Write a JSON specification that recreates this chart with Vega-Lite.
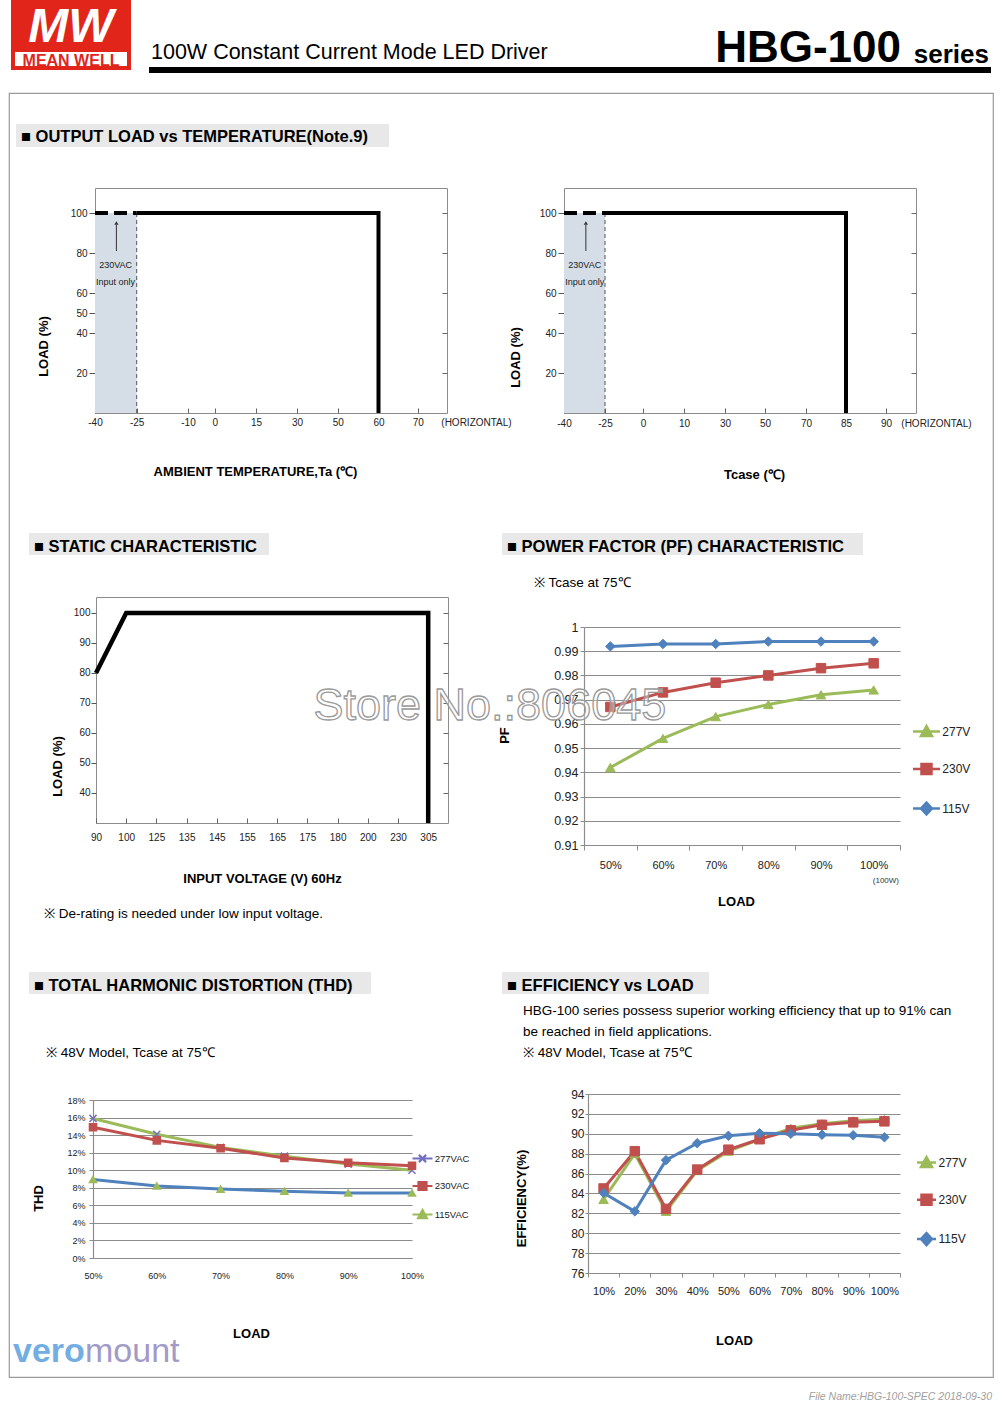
{
"$schema": "https://vega.github.io/schema/vega-lite/v6.json",
"background": "white",
"padding": {"left": 8, "top": 0, "right": 8, "bottom": 0},
"config": {
  "view": {"stroke": null},
  "font": "Liberation Sans, Arial, sans-serif",
  "title": {"baseline": "top", "frame": "group", "anchor": "start", "offset": 0, "color": "#000", "fontWeight": "normal", "font": "Liberation Sans, Arial, sans-serif"},
  "axis": {"grid": false, "labelFont": "Liberation Sans, Arial, sans-serif", "labelFontSize": 10, "labelColor": "#222", "tickColor": "#555", "titleFont": "Liberation Sans, Arial, sans-serif", "titleFontSize": 13, "titleFontWeight": "bold", "titleColor": "#000", "labelFlush": false, "labelOverlap": false},
  "legend": {"padding": 0}
},
"bounds": "flush",
"spacing": 0,
"vconcat": [
  {"hconcat": [{"width":1,"height":1,"data":{"values":[]},"mark":"point"},
    {"width":120,"height":50,"view":{"fill":"#e1251b","stroke":null},"data":{"values":[]},"mark":"point",
     "title":{"text":"MW","anchor":"middle","offset":-52,"fontSize":48,"fontWeight":"bold","fontStyle":"italic","color":"#ffffff"}}],
   "spacing":1,"bounds":"flush"},
  {"width":1,"height":50,"data":{"values":[]},"mark":"point"},
  {"hconcat": [{"width":1,"height":1,"data":{"values":[]},"mark":"point"},
    {"width":116,"height":18,"view":{"fill":"#ffffff","stroke":"#e1251b","strokeWidth":4},"data":{"values":[]},"mark":"point",
     "title":{"text":"MEAN WELL","anchor":"middle","offset":-18.5,"fontSize":16,"fontWeight":"bold","color":"#e1251b"}}],
   "spacing":3,"bounds":"flush"},
  {"width":1,"height":17,"data":{"values":[]},"mark":"point"},
  {"hconcat": [{"width":1,"height":1,"data":{"values":[]},"mark":"point"},
    {"width":842,"height":6,"view":{"fill":"#000000","stroke":null},"data":{"values":[]},"mark":"point"}],
   "spacing":139,"bounds":"flush"},
  {"hconcat":[{"width":1,"height":1,"data":{"values":[]},"mark":"point","title":{"text":"100W Constant Current Mode LED Driver","anchor":"start","dx":142,"offset":3.5,"fontSize":21.5}}],"bounds":"flush"},
  {"hconcat":[{"width":1,"height":1,"data":{"values":[]},"mark":"point","title":{"text":"HBG-100","anchor":"end","dx":891,"offset":-4.2,"fontSize":44,"fontWeight":"bold"}}],"bounds":"flush"},
  {"hconcat":[{"width":1,"height":1,"data":{"values":[]},"mark":"point","title":{"text":"series","anchor":"end","dx":979,"offset":-0.5,"fontSize":26,"fontWeight":"bold"}}],"bounds":"flush"},
  {"width":1,"height":26,"data":{"values":[]},"mark":"point"},
  {"hconcat": [
    {"width":984,"height":1284,"view":{"stroke":"#9a9a9a","strokeWidth":1.2},"data":{"values":[]},"mark":"point"}],
   "bounds":"flush"},
  {"width":1,"height":31,"data":{"values":[]},"mark":"point"},
  {"hconcat": [{"width":1,"height":1,"data":{"values":[]},"mark":"point"},
    {"width":373,"height":23,"view":{"fill":"#e8e8e8","stroke":null},"data":{"values":[]},"mark":"point",
     "title":{"text":"■ OUTPUT LOAD vs TEMPERATURE(Note.9)","dx":5,"offset":-21.5,"fontSize":16.5,"fontWeight":"bold"}}],
   "spacing":6,"bounds":"flush"},
  {"width":1,"height":64,"data":{"values":[]},"mark":"point"},
  {"hconcat": [{"width":1,"height":1,"data":{"values":[]},"mark":"point"},
    {"width": 352, "height": 225,
     "view": {"stroke": "#8c8c8c", "strokeWidth": 1},
     "encoding": {
      "x": {"field": "t", "type": "quantitative",
       "scale": {"domain": [-40,-25,-10,0,15,30,50,60,70,85], "range": [0,41.7,93,119.7,161,202,242.7,283.5,322.7,381], "nice": false, "zero": false},
       "axis": {"values": [-40,-25,-10,0,15,30,50,60,70,85], "labelExpr": "datum.value == 85 ? '(HORIZONTAL)' : '' + datum.value", "domain": false, "tickSize": -5, "tickColor": {"condition": {"test": "datum.value > 80", "value": "transparent"}, "value": "#666"}, "labelPadding": 9, "title": "AMBIENT TEMPERATURE,Ta (℃)", "titleX": 160, "titleY": 62, "titleBaseline": "alphabetic"}},
      "y": {"field": "load", "type": "quantitative", "scale": {"domain": [0, 112.5], "nice": false, "zero": false}, "axis": null}
     },
     "layer": [
      {"data": {"values": [{"t": -40, "t2": -25, "load": 0, "load2": 100}]}, "mark": {"type": "rect", "color": "#d5dde6"},
       "encoding": {"x2": {"field": "t2"}, "y2": {"field": "load2"},
        "y": {"field": "load", "type": "quantitative", "scale": {"domain": [0, 112.5], "nice": false, "zero": false},
         "axis": {"values": [20,40,50,60,80,100], "labelExpr": "'' + datum.value", "domain": false, "tickSize": 6, "labelPadding": 2, "title": "LOAD (%)", "titleX": -48, "titleY": 158, "titleBaseline": "alphabetic"}}}},
      {"data": {"values": [{"t": -25, "load": 0, "load2": 100}]}, "mark": {"type": "rule", "color": "#555", "strokeDash": [4,3], "strokeWidth": 1},
       "encoding": {"y2": {"field": "load2"},
        "y": {"field": "load", "type": "quantitative", "scale": {"domain": [0, 112.5], "nice": false, "zero": false},
         "axis": {"orient": "right", "values": [20,40,60,80,100], "labels": false, "domain": false, "tickSize": -5, "tickColor": "#666", "title": null}}}},
      {"data": {"values": [{"t": -32.3, "load": 81, "load2": 94}]}, "mark": {"type": "rule", "color": "#333", "strokeWidth": 1}, "encoding": {"y2": {"field": "load2"}}},
      {"data": {"values": [{"t": -32.3, "load": 95}]}, "mark": {"type": "point", "shape": "triangle-up", "filled": true, "size": 18, "color": "#333", "opacity": 1}},
      {"data": {"values": [{"t": -32.6, "load": 74, "label": "230VAC"}, {"t": -32.6, "load": 65.5, "label": "Input only"}]}, "mark": {"type": "text", "fontSize": 9, "color": "#222"}, "encoding": {"text": {"field": "label"}}},
      {"data": {"values": [{"t": -40, "load": 100}, {"t": -25, "load": 100}]}, "mark": {"type": "line", "color": "#000", "strokeWidth": 4, "strokeDash": [13, 6]}},
      {"data": {"values": [{"i": 1, "t": -25, "load": 100}, {"i": 2, "t": 60, "load": 100}, {"i": 3, "t": 60, "load": 0}]}, "mark": {"type": "line", "color": "#000", "strokeWidth": 4, "strokeJoin": "miter"}, "encoding": {"order": {"field": "i"}}}
     ],
     "resolve": {"axis": {"y": "independent"}}}],
   "spacing":85,"bounds":"flush"},
  {"hconcat": [{"width":1,"height":1,"data":{"values":[]},"mark":"point"},
    {"width": 352, "height": 225,
     "view": {"stroke": "#8c8c8c", "strokeWidth": 1},
     "encoding": {
      "x": {"field": "t", "type": "quantitative",
       "scale": {"domain": [-40,-25,0,10,30,50,70,85,90,100], "range": [0,41,79,120,161,201,242,282,322,372], "nice": false, "zero": false},
       "axis": {"values": [-40,-25,0,10,30,50,70,85,90,100], "labelExpr": "datum.value == 100 ? '(HORIZONTAL)' : '' + datum.value", "domain": false, "tickSize": -5, "tickColor": {"condition": {"test": "datum.value > 95", "value": "transparent"}, "value": "#666"}, "labelPadding": 10, "title": "Tcase (℃)", "titleX": 190, "titleY": 65, "titleBaseline": "alphabetic"}},
      "y": {"field": "load", "type": "quantitative", "scale": {"domain": [0, 112.5], "nice": false, "zero": false}, "axis": null}
     },
     "layer": [
      {"data": {"values": [{"t": -40, "t2": -25, "load": 0, "load2": 100}]}, "mark": {"type": "rect", "color": "#d5dde6"},
       "encoding": {"x2": {"field": "t2"}, "y2": {"field": "load2"},
        "y": {"field": "load", "type": "quantitative", "scale": {"domain": [0, 112.5], "nice": false, "zero": false},
         "axis": {"values": [20,40,50,60,80,100], "labelExpr": "datum.value == 50 ? '' : '' + datum.value", "domain": false, "tickSize": 6, "labelPadding": 2, "title": "LOAD (%)", "titleX": -45, "titleY": 169, "titleBaseline": "alphabetic"}}}},
      {"data": {"values": [{"t": -25, "load": 0, "load2": 100}]}, "mark": {"type": "rule", "color": "#555", "strokeDash": [4,3], "strokeWidth": 1},
       "encoding": {"y2": {"field": "load2"},
        "y": {"field": "load", "type": "quantitative", "scale": {"domain": [0, 112.5], "nice": false, "zero": false},
         "axis": {"orient": "right", "values": [20,40,60,80,100], "labels": false, "domain": false, "tickSize": -5, "tickColor": "#666", "title": null}}}},
      {"data": {"values": [{"t": -32, "load": 81, "load2": 94}]}, "mark": {"type": "rule", "color": "#333", "strokeWidth": 1}, "encoding": {"y2": {"field": "load2"}}},
      {"data": {"values": [{"t": -32, "load": 95}]}, "mark": {"type": "point", "shape": "triangle-up", "filled": true, "size": 18, "color": "#333", "opacity": 1}},
      {"data": {"values": [{"t": -32.4, "load": 74, "label": "230VAC"}, {"t": -32.4, "load": 65.5, "label": "Input only"}]}, "mark": {"type": "text", "fontSize": 9, "color": "#222"}, "encoding": {"text": {"field": "label"}}},
      {"data": {"values": [{"t": -40, "load": 100}, {"t": -25, "load": 100}]}, "mark": {"type": "line", "color": "#000", "strokeWidth": 4, "strokeDash": [13, 6]}},
      {"data": {"values": [{"i": 1, "t": -25, "load": 100}, {"i": 2, "t": 85, "load": 100}, {"i": 3, "t": 85, "load": 0}]}, "mark": {"type": "line", "color": "#000", "strokeWidth": 4, "strokeJoin": "miter"}, "encoding": {"order": {"field": "i"}}}
     ],
     "resolve": {"axis": {"y": "independent"}}}],
   "spacing":554,"bounds":"flush"},
  {"width":1,"height":345,"data":{"values":[]},"mark":"point"},
  {"hconcat": [{"width":1,"height":1,"data":{"values":[]},"mark":"point"},
    {"width":240,"height":22,"view":{"fill":"#e8e8e8","stroke":null},"data":{"values":[]},"mark":"point",
     "title":{"text":"■ STATIC CHARACTERISTIC","dx":5,"offset":-22.5,"fontSize":16.5,"fontWeight":"bold"}}],
   "spacing":19,"bounds":"flush"},
  {"hconcat": [{"width":1,"height":1,"data":{"values":[]},"mark":"point"},
    {"width":361,"height":22,"view":{"fill":"#e8e8e8","stroke":null},"data":{"values":[]},"mark":"point",
     "title":{"text":"■ POWER FACTOR (PF) CHARACTERISTIC","dx":5,"offset":-22.5,"fontSize":16.5,"fontWeight":"bold"}}],
   "spacing":492,"bounds":"flush"},
  {"width":1,"height":64,"data":{"values":[]},"mark":"point"},
  {"hconcat": [{"width":1,"height":1,"data":{"values":[]},"mark":"point"},
    {"width": 352, "height": 226,
     "view": {"stroke": "#8c8c8c", "strokeWidth": 1},
     "data": {"values": [{"i": 1, "v": 90, "load": 80}, {"i": 2, "v": 100, "load": 100}, {"i": 3, "v": 305, "load": 100}, {"i": 4, "v": 305, "load": 30}]},
     "encoding": {
      "x": {"field": "v", "type": "quantitative",
       "scale": {"domain": [90,100,125,135,145,155,165,175,180,200,230,305,330], "range": [0,30.2,60.4,90.6,120.8,151,181.2,211.4,241.6,271.8,302,332.2,352], "nice": false, "zero": false},
       "axis": {"values": [90,100,125,135,145,155,165,175,180,200,230,305], "labelExpr": "'' + datum.value", "domain": false, "tickSize": -5, "tickColor": "#666", "labelPadding": 14, "title": "INPUT VOLTAGE (V) 60Hz", "titleX": 166, "titleY": 59.5, "titleBaseline": "alphabetic"}},
      "order": {"field": "i"}
     },
     "layer": [
      {"mark": {"type": "line", "color": "#000", "strokeWidth": 4.5, "strokeJoin": "miter"},
       "encoding": {"y": {"field": "load", "type": "quantitative", "scale": {"domain": [30, 105.33], "nice": false, "zero": false},
        "axis": {"values": [40,50,60,70,80,90,100], "labelExpr": "'' + datum.value", "domain": false, "tickSize": 5, "labelPadding": 1, "title": "LOAD (%)", "titleX": -35, "titleY": 169, "titleBaseline": "alphabetic"}}}},
      {"transform": [{"filter": "false"}], "mark": {"type": "point"},
       "encoding": {"y": {"field": "load", "type": "quantitative", "scale": {"domain": [30, 105.33], "nice": false, "zero": false},
        "axis": {"orient": "right", "values": [40,50,60,70,80,90,100], "labels": false, "domain": false, "tickSize": -5, "tickColor": "#666", "title": null}}}}
     ],
     "resolve": {"axis": {"y": "independent"}}}],
   "spacing":86,"bounds":"flush"},
  {"hconcat":[{"width":1,"height":1,"data":{"values":[]},"mark":"point","title":{"text":"※ Tcase at 75℃","anchor":"start","dx":525,"offset":7.2,"fontSize":13.5}}],"bounds":"flush"},
  {"width":1,"height":30,"data":{"values":[]},"mark":"point"},
  {"hconcat": [{"width":1,"height":1,"data":{"values":[]},"mark":"point"},
    {"width": 316, "height": 218,
     "data": {"values": [
      {"load":"50%","series":"277V","pf":0.942},{"load":"60%","series":"277V","pf":0.954},{"load":"70%","series":"277V","pf":0.963},{"load":"80%","series":"277V","pf":0.968},{"load":"90%","series":"277V","pf":0.972},{"load":"100%","series":"277V","pf":0.974},
      {"load":"50%","series":"230V","pf":0.967},{"load":"60%","series":"230V","pf":0.973},{"load":"70%","series":"230V","pf":0.977},{"load":"80%","series":"230V","pf":0.980},{"load":"90%","series":"230V","pf":0.983},{"load":"100%","series":"230V","pf":0.985},
      {"load":"50%","series":"115V","pf":0.992},{"load":"60%","series":"115V","pf":0.993},{"load":"70%","series":"115V","pf":0.993},{"load":"80%","series":"115V","pf":0.994},{"load":"90%","series":"115V","pf":0.994},{"load":"100%","series":"115V","pf":0.994}
     ]},
     "encoding": {
      "x": {"field":"load","type":"ordinal","bandPosition":0.5,
        "scale":{"type":"band","domain":["50%","60%","70%","80%","90%","100%"],"paddingInner":0,"paddingOuter":0},
        "axis":{"tickBand":"extent","labelAngle":0,"labelFontSize":11,"tickSize":5,"tickColor":"#8c8c8c","labelPadding":9,"domainColor":"#8c8c8c","domainWidth":1.2,"title":"LOAD","titleX":152,"titleY":60,"titleBaseline":"alphabetic"}},
      "y": {"field":"pf","type":"quantitative","scale":{"domain":[0.91,1],"nice":false,"zero":false},
        "axis":{"values":[0.91,0.92,0.93,0.94,0.95,0.96,0.97,0.98,0.99,1],"labelExpr":"format(datum.value, '.2~f')","grid":true,"gridColor":"#8c8c8c","gridWidth":1.2,"domainColor":"#8c8c8c","domainWidth":1.2,"tickColor":"#8c8c8c","tickSize":4,"labelPadding":2,"labelFontSize":12.5,"title":"PF","titleX":-76,"titleY":108,"titleBaseline":"alphabetic"}}
     },
     "layer": [
      {"mark": {"type": "line", "strokeWidth": 3, "strokeJoin": "round"}, "encoding": {"color": {"field": "series", "type": "nominal", "scale": {"domain": ["277V","230V","115V"], "range": ["#9bbb59","#c0504d","#4f81bd"]}, "legend": null}}},
      {"mark": {"type": "point", "opacity": 1, "size": 90, "strokeWidth": 1, "filled": true},
       "encoding": {
        "fill": {"field": "series", "type": "nominal", "scale": {"domain": ["277V","230V","115V"], "range": ["#9bbb59","#c0504d","#4f81bd"]}, "legend": null},
        "stroke": {"field": "series", "type": "nominal", "scale": {"domain": ["277V","230V","115V"], "range": ["#9bbb59","#c0504d","#4f81bd"]}, "legend": null},
        "shape": {"field": "series", "type": "nominal", "scale": {"domain": ["277V","230V","115V"], "range": ["triangle-up","square","diamond"]}, "legend": null}}},
      {"transform": [{"filter": "false"}], "mark": {"type": "point", "opacity": 1, "strokeWidth": 2.5, "filled": true},
       "encoding": {
        "fill": {"field": "series", "type": "nominal", "scale": {"domain": ["277V","230V","115V"], "range": ["#9bbb59","#c0504d","#4f81bd"]}, "legend": {"orient":"none","legendX":336,"legendY":98,"title":null,"labelFontSize":12,"labelColor":"#222","symbolSize":100,"symbolStrokeWidth":2.5,"symbolOpacity":1,"rowPadding":17.5,"labelOffset":9.3,"padding":0}},
        "stroke": {"field": "series", "type": "nominal", "scale": {"domain": ["277V","230V","115V"], "range": ["#9bbb59","#c0504d","#4f81bd"]}, "legend": {"orient":"none","legendX":336,"legendY":98,"title":null,"labelFontSize":12,"labelColor":"#222","symbolSize":100,"symbolStrokeWidth":2.5,"symbolOpacity":1,"rowPadding":17.5,"labelOffset":9.3,"padding":0}},
        "shape": {"field": "series", "type": "nominal", "scale": {"domain": ["277V","230V","115V"], "range": ["M-2.7,0H2.7M0,-1.1L1.1,0.9H-1.1Z","M-2.7,0H2.7M-1,-1H1V1H-1Z","M-2.7,0H2.7M0,-1.2L1.1,0L0,1.2L-1.1,0Z"]}, "legend": {"orient":"none","legendX":336,"legendY":98,"title":null,"labelFontSize":12,"labelColor":"#222","symbolSize":100,"symbolStrokeWidth":2.5,"symbolOpacity":1,"rowPadding":17.5,"labelOffset":9.3,"padding":0}}}}
     ],
     "resolve": {"scale": {"fill": "independent", "stroke": "independent", "shape": "independent"}}}],
   "spacing":574,"bounds":"flush"},
  {"width":1,"height":92,"data":{"values":[]},"mark":"point"},
  {"hconcat": [{"width":1,"height":1,"data":{"values":[]},"mark":"point"},
    {"width":1,"height":1,"data":{"values":[{"w":"Store No.:806045"}]},"mark":{"type":"text","align":"left","baseline":"alphabetic","fontSize":45,"fill":"#ffffff","fillOpacity":0.35,"stroke":"#9a9a9a","strokeWidth":1.3},"encoding":{"text":{"field":"w"}}}],
   "spacing":303,"bounds":"flush"},
  {"width":1,"height":161,"data":{"values":[]},"mark":"point"},
  {"hconcat":[{"width":1,"height":1,"data":{"values":[]},"mark":"point","title":{"text":"(100W)","anchor":"end","dx":889,"offset":-4.7,"fontSize":8,"color":"#333"}}],"bounds":"flush"},
  {"hconcat":[{"width":1,"height":1,"data":{"values":[]},"mark":"point","title":{"text":"※ De-rating is needed under low input voltage.","anchor":"start","dx":35,"offset":-40.8,"fontSize":13.5}}],"bounds":"flush"},
  {"width":1,"height":92,"data":{"values":[]},"mark":"point"},
  {"hconcat": [{"width":1,"height":1,"data":{"values":[]},"mark":"point"},
    {"width":342,"height":22,"view":{"fill":"#e8e8e8","stroke":null},"data":{"values":[]},"mark":"point",
     "title":{"text":"■ TOTAL HARMONIC DISTORTION (THD)","dx":5,"offset":-22,"fontSize":16.5,"fontWeight":"bold"}}],
   "spacing":19,"bounds":"flush"},
  {"hconcat": [{"width":1,"height":1,"data":{"values":[]},"mark":"point"},
    {"width":207,"height":22,"view":{"fill":"#e8e8e8","stroke":null},"data":{"values":[]},"mark":"point",
     "title":{"text":"■ EFFICIENCY vs LOAD","dx":5,"offset":-22,"fontSize":16.5,"fontWeight":"bold"}}],
   "spacing":492,"bounds":"flush"},
  {"hconcat":[{"width":1,"height":1,"data":{"values":[]},"mark":"point","title":{"text":"HBG-100 series possess superior working efficiency that up to 91% can","anchor":"start","dx":514,"offset":-45.8,"fontSize":13.5}}],"bounds":"flush"},
  {"hconcat":[{"width":1,"height":1,"data":{"values":[]},"mark":"point","title":{"text":"be reached in field applications.","anchor":"start","dx":514,"offset":-66.8,"fontSize":13.5}}],"bounds":"flush"},
  {"hconcat":[{"width":1,"height":1,"data":{"values":[]},"mark":"point","title":{"text":"※ 48V Model, Tcase at 75℃","anchor":"start","dx":514,"offset":-87.8,"fontSize":13.5}}],"bounds":"flush"},
  {"hconcat":[{"width":1,"height":1,"data":{"values":[]},"mark":"point","title":{"text":"※ 48V Model, Tcase at 75℃","anchor":"start","dx":37,"offset":-87.8,"fontSize":13.5}}],"bounds":"flush"},
  {"width":1,"height":122,"data":{"values":[]},"mark":"point"},
  {"hconcat": [{"width":1,"height":1,"data":{"values":[]},"mark":"point"},
    {"width": 312, "height": 179,
     "data": {"values": [
      {"load":"10%","series":"277V","eff":83.4},{"load":"20%","series":"277V","eff":88.0},{"load":"30%","series":"277V","eff":82.2},{"load":"40%","series":"277V","eff":86.3},{"load":"50%","series":"277V","eff":88.25},{"load":"60%","series":"277V","eff":89.45},{"load":"70%","series":"277V","eff":90.55},{"load":"80%","series":"277V","eff":91.0},{"load":"90%","series":"277V","eff":91.3},{"load":"100%","series":"277V","eff":91.45},
      {"load":"10%","series":"230V","eff":84.5},{"load":"20%","series":"230V","eff":88.25},{"load":"30%","series":"230V","eff":82.45},{"load":"40%","series":"230V","eff":86.4},{"load":"50%","series":"230V","eff":88.4},{"load":"60%","series":"230V","eff":89.45},{"load":"70%","series":"230V","eff":90.35},{"load":"80%","series":"230V","eff":90.9},{"load":"90%","series":"230V","eff":91.15},{"load":"100%","series":"230V","eff":91.25},
      {"load":"10%","series":"115V","eff":84.05},{"load":"20%","series":"115V","eff":82.2},{"load":"30%","series":"115V","eff":87.35},{"load":"40%","series":"115V","eff":89.05},{"load":"50%","series":"115V","eff":89.8},{"load":"60%","series":"115V","eff":90.05},{"load":"70%","series":"115V","eff":90.0},{"load":"80%","series":"115V","eff":89.9},{"load":"90%","series":"115V","eff":89.85},{"load":"100%","series":"115V","eff":89.65}
     ]},
     "encoding": {
      "x": {"field":"load","type":"ordinal","bandPosition":0.5,
        "scale":{"type":"band","domain":["10%","20%","30%","40%","50%","60%","70%","80%","90%","100%"],"paddingInner":0,"paddingOuter":0},
        "axis":{"tickBand":"extent","labelAngle":0,"labelFontSize":11,"tickSize":4,"tickColor":"#8c8c8c","labelPadding":8,"domainColor":"#8c8c8c","domainWidth":1.2,"title":"LOAD","titleX":146,"titleY":71,"titleBaseline":"alphabetic"}},
      "y": {"field":"eff","type":"quantitative","scale":{"domain":[76,94],"nice":false,"zero":false},
        "axis":{"values":[76,78,80,82,84,86,88,90,92,94],"grid":true,"gridColor":"#8c8c8c","gridWidth":1.2,"domainColor":"#8c8c8c","domainWidth":1.2,"tickColor":"#8c8c8c","tickSize":3,"labelPadding":1,"labelFontSize":12,"title":"EFFICIENCY(%)","titleX":-63,"titleY":104,"titleBaseline":"alphabetic"}}
     },
     "layer": [
      {"mark": {"type": "line", "strokeWidth": 3, "strokeJoin": "round"}, "encoding": {"color": {"field": "series", "type": "nominal", "scale": {"domain": ["277V","230V","115V"], "range": ["#9bbb59","#c0504d","#4f81bd"]}, "legend": null}}},
      {"mark": {"type": "point", "opacity": 1, "size": 90, "strokeWidth": 1, "filled": true},
       "encoding": {
        "fill": {"field": "series", "type": "nominal", "scale": {"domain": ["277V","230V","115V"], "range": ["#9bbb59","#c0504d","#4f81bd"]}, "legend": null},
        "stroke": {"field": "series", "type": "nominal", "scale": {"domain": ["277V","230V","115V"], "range": ["#9bbb59","#c0504d","#4f81bd"]}, "legend": null},
        "shape": {"field": "series", "type": "nominal", "scale": {"domain": ["277V","230V","115V"], "range": ["triangle-up","square","diamond"]}, "legend": null}}},
      {"transform": [{"filter": "false"}], "mark": {"type": "point", "opacity": 1, "strokeWidth": 2.5, "filled": true},
       "encoding": {
        "fill": {"field": "series", "type": "nominal", "scale": {"domain": ["277V","230V","115V"], "range": ["#9bbb59","#c0504d","#4f81bd"]}, "legend": {"orient":"none","legendX":332,"legendY":62,"title":null,"labelFontSize":12,"labelColor":"#222","symbolSize":100,"symbolStrokeWidth":2.5,"symbolOpacity":1,"rowPadding":17.3,"labelOffset":5.5,"padding":0}},
        "stroke": {"field": "series", "type": "nominal", "scale": {"domain": ["277V","230V","115V"], "range": ["#9bbb59","#c0504d","#4f81bd"]}, "legend": {"orient":"none","legendX":332,"legendY":62,"title":null,"labelFontSize":12,"labelColor":"#222","symbolSize":100,"symbolStrokeWidth":2.5,"symbolOpacity":1,"rowPadding":17.3,"labelOffset":5.5,"padding":0}},
        "shape": {"field": "series", "type": "nominal", "scale": {"domain": ["277V","230V","115V"], "range": ["M-1.9,0H1.9M0,-1.1L1.1,0.9H-1.1Z","M-1.9,0H1.9M-1,-1H1V1H-1Z","M-1.9,0H1.9M0,-1.2L1.1,0L0,1.2L-1.1,0Z"]}, "legend": {"orient":"none","legendX":332,"legendY":62,"title":null,"labelFontSize":12,"labelColor":"#222","symbolSize":100,"symbolStrokeWidth":2.5,"symbolOpacity":1,"rowPadding":17.3,"labelOffset":5.5,"padding":0}}}}
     ],
     "resolve": {"scale": {"fill": "independent", "stroke": "independent", "shape": "independent"}}}],
   "spacing":578,"bounds":"flush"},
  {"width":1,"height":6,"data":{"values":[]},"mark":"point"},
  {"hconcat": [{"width":1,"height":1,"data":{"values":[]},"mark":"point"},
    {"width": 319, "height": 158,
     "data": {"values": [
      {"load":50,"series":"277VAC","thd":15.9},{"load":60,"series":"277VAC","thd":14.1},{"load":70,"series":"277VAC","thd":12.6},{"load":80,"series":"277VAC","thd":11.6},{"load":90,"series":"277VAC","thd":10.7},{"load":100,"series":"277VAC","thd":10.0},
      {"load":50,"series":"230VAC","thd":14.9},{"load":60,"series":"230VAC","thd":13.4},{"load":70,"series":"230VAC","thd":12.5},{"load":80,"series":"230VAC","thd":11.4},{"load":90,"series":"230VAC","thd":10.85},{"load":100,"series":"230VAC","thd":10.5},
      {"load":50,"series":"115VAC","thd":8.95},{"load":60,"series":"115VAC","thd":8.2},{"load":70,"series":"115VAC","thd":7.85},{"load":80,"series":"115VAC","thd":7.6},{"load":90,"series":"115VAC","thd":7.4},{"load":100,"series":"115VAC","thd":7.4}
     ]},
     "encoding": {
      "x": {"field":"load","type":"quantitative","scale":{"domain":[50,100],"nice":false,"zero":false},
        "axis":{"values":[50,60,70,80,90,100],"labelExpr":"datum.value + '%'","ticks":false,"labelPadding":13,"labelFontSize":9,"domainColor":"#8c8c8c","domainWidth":1.2,"title":"LOAD","titleX":158,"titleY":79,"titleBaseline":"alphabetic"}},
      "y": {"field":"thd","type":"quantitative","scale":{"domain":[0,18],"nice":false,"zero":false},
        "axis":{"values":[0,2,4,6,8,10,12,14,16,18],"labelExpr":"datum.value + '%'","grid":true,"gridColor":"#8c8c8c","gridWidth":1.2,"domainColor":"#8c8c8c","domainWidth":1.2,"tickColor":"#8c8c8c","tickSize":4,"labelPadding":4,"labelFontSize":9,"title":"THD","titleX":-51,"titleY":98,"titleBaseline":"alphabetic"}}
     },
     "layer": [
      {"mark": {"type": "line", "strokeWidth": 3, "strokeJoin": "round"}, "encoding": {"color": {"field": "series", "type": "nominal", "scale": {"domain": ["277VAC","230VAC","115VAC"], "range": ["#7470c0","#c0504d","#9bbb59"]}, "legend": null}}},
      {"mark": {"type": "point", "opacity": 1, "size": 50, "strokeWidth": 1.5, "filled": true},
       "encoding": {
        "fill": {"field": "series", "type": "nominal", "scale": {"domain": ["277VAC","230VAC","115VAC"], "range": ["#7470c0","#c0504d","#9bbb59"]}, "legend": null},
        "stroke": {"field": "series", "type": "nominal", "scale": {"domain": ["277VAC","230VAC","115VAC"], "range": ["#7470c0","#c0504d","#9bbb59"]}, "legend": null},
        "shape": {"field": "series", "type": "nominal", "scale": {"domain": ["277VAC","230VAC","115VAC"], "range": ["M-1,-1L1,1M1,-1L-1,1","square","triangle-up"]}, "legend": null}}},
      {"transform": [{"filter": "false"}], "mark": {"type": "point", "opacity": 1, "strokeWidth": 2.2, "filled": true},
       "encoding": {
        "fill": {"field": "series", "type": "nominal", "scale": {"domain": ["277VAC","230VAC","115VAC"], "range": ["#7470c0","#c0504d","#9bbb59"]}, "legend": {"orient":"none","legendX":324,"legendY":53,"title":null,"labelFontSize":9.5,"labelColor":"#222","symbolSize":64,"symbolStrokeWidth":2.2,"symbolOpacity":1,"rowPadding":10.5,"labelOffset":6.7,"padding":0}},
        "stroke": {"field": "series", "type": "nominal", "scale": {"domain": ["277VAC","230VAC","115VAC"], "range": ["#7470c0","#c0504d","#9bbb59"]}, "legend": {"orient":"none","legendX":324,"legendY":53,"title":null,"labelFontSize":9.5,"labelColor":"#222","symbolSize":64,"symbolStrokeWidth":2.2,"symbolOpacity":1,"rowPadding":10.5,"labelOffset":6.7,"padding":0}},
        "shape": {"field": "series", "type": "nominal", "scale": {"domain": ["277VAC","230VAC","115VAC"], "range": ["M-2.5,0H2.5M-0.9,-0.9L0.9,0.9M0.9,-0.9L-0.9,0.9","M-2.5,0H2.5M-1,-1H1V1H-1Z","M-2.5,0H2.5M0,-1.1L1.1,0.9H-1.1Z"]}, "legend": {"orient":"none","legendX":324,"legendY":53,"title":null,"labelFontSize":9.5,"labelColor":"#222","symbolSize":64,"symbolStrokeWidth":2.2,"symbolOpacity":1,"rowPadding":10.5,"labelOffset":6.7,"padding":0}}}}
     ],
     "resolve": {"scale": {"fill": "independent", "stroke": "independent", "shape": "independent"}}}],
   "spacing":83,"bounds":"flush"},
  {"width":1,"height":262,"data":{"values":[]},"mark":"point"},
  {"hconcat":[{"width":1,"height":1,"data":{"values":[]},"mark":"point","title":{"text":"vero","anchor":"start","dx":4,"offset":-7.1,"fontSize":34,"fontWeight":"bold","color":"#72aee2"}}],"bounds":"flush"},
  {"hconcat":[{"width":1,"height":1,"data":{"values":[]},"mark":"point","title":{"text":"mount","anchor":"start","dx":76,"offset":-7.1,"fontSize":34,"color":"#a29ac8"}}],"bounds":"flush"},
  {"width":1,"height":38,"data":{"values":[]},"mark":"point"},
  {"hconcat":[{"width":1,"height":1,"data":{"values":[]},"mark":"point","title":{"text":"File Name:HBG-100-SPEC  2018-09-30","anchor":"end","dx":982,"offset":-2.2,"fontSize":10.5,"fontStyle":"italic","color":"#a0a0a0"}}],"bounds":"flush"}
]
}
